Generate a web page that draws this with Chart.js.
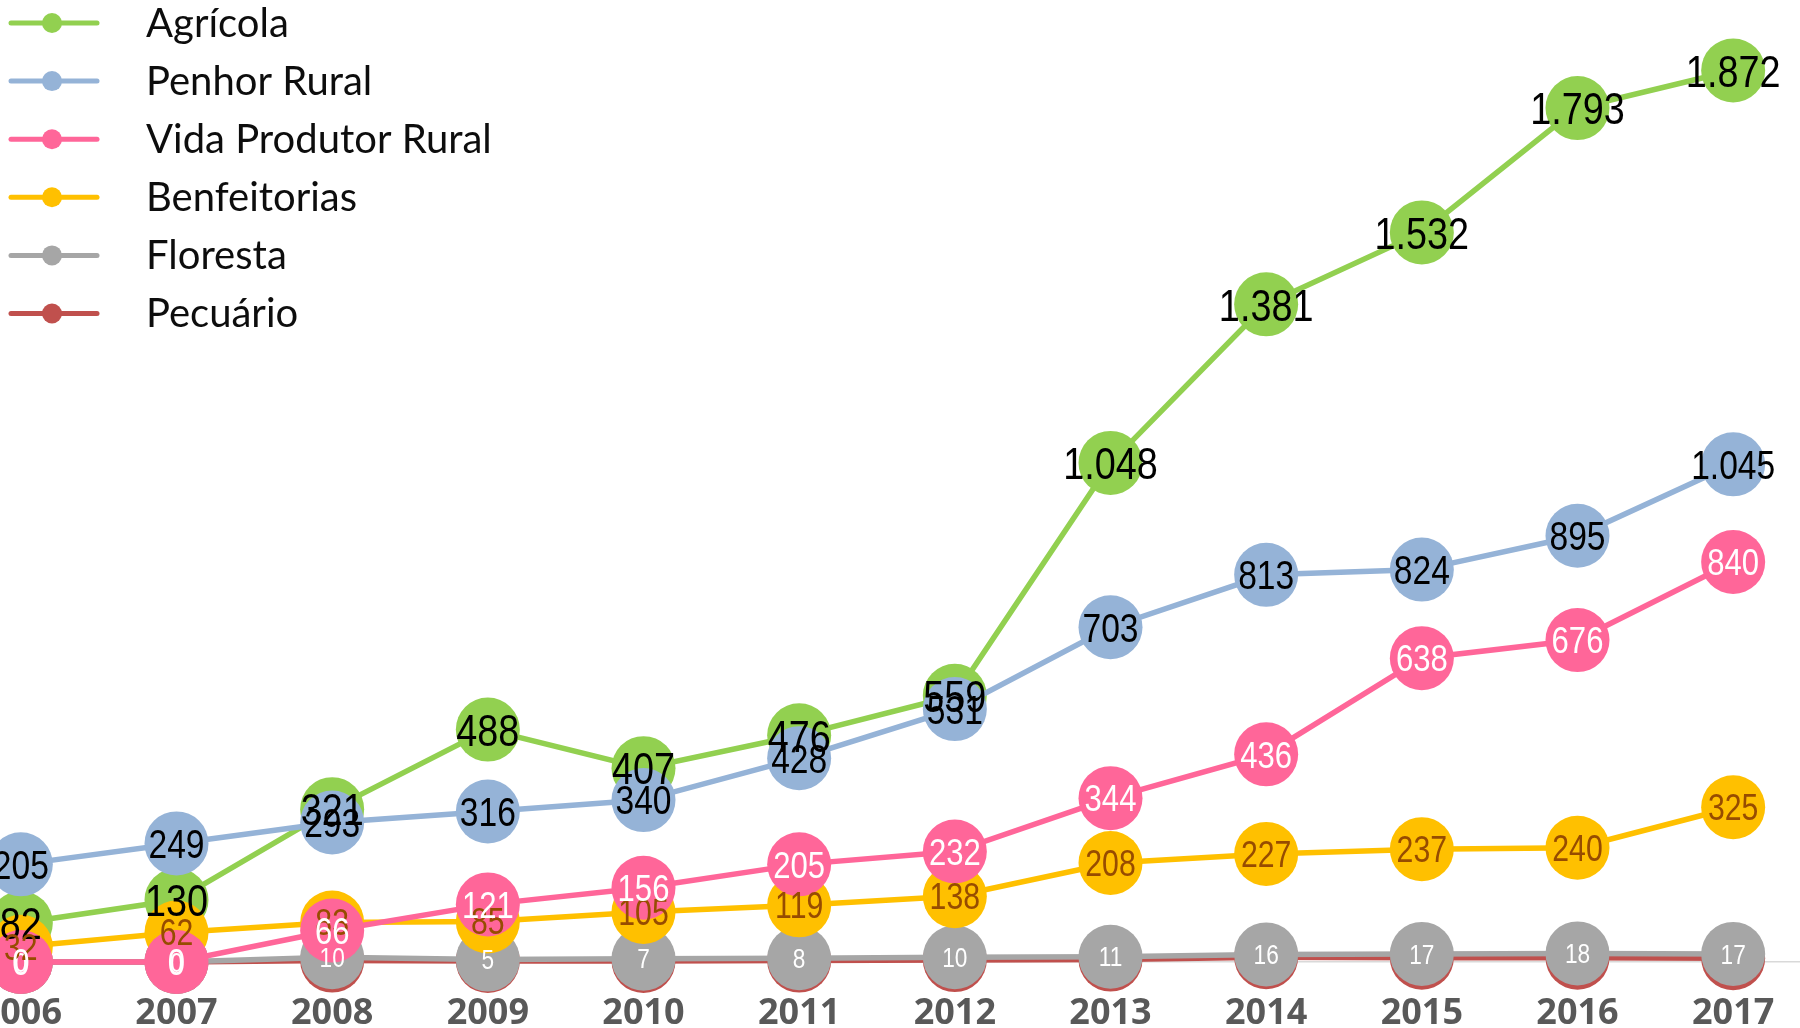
<!DOCTYPE html>
<html>
<head>
<meta charset="utf-8">
<script src="https://cdn.jsdelivr.net/npm/chart.js@4.4.1/dist/chart.umd.min.js"></script>
<style>
  html, body { margin: 0; padding: 0; background: #fff; overflow: hidden; }
  /* canvas is a bit wider than the window so the first/last year sit half a slot in */
  #wrap { position: absolute; left: -57px; top: 0; width: 1868px; height: 1028px; }
</style>
</head>
<body>
<div id="wrap"><canvas id="seguro-line-chart"></canvas></div>
<script>
var years = ['2006', '2007', '2008', '2009', '2010', '2011', '2012', '2013', '2014', '2015', '2016', '2017'];

var agricola     = [82, 130, 321, 488, 407, 476, 559, 1048, 1381, 1532, 1793, 1872];
var penhorRural  = [205, 249, 293, 316, 340, 428, 531, 703, 813, 824, 895, 1045];
var vidaProdutor = [0, 0, 66, 121, 156, 205, 232, 344, 436, 638, 676, 840];
var benfeitorias = [32, 62, 83, 85, 105, 119, 138, 208, 227, 237, 240, 325];
var floresta     = [0, 0, 10, 5, 7, 8, 10, 11, 16, 17, 18, 17];
var pecuario     = [0, 0, 3, 2, 2, 3, 4, 5, 10, 9, 9, 8];

var LABEL_FONT = '"Liberation Sans", Arial, sans-serif';

function fmt(v) {
  return String(v).replace(/\B(?=(\d{3})+(?!\d))/g, '.');
}

function series(label, data, color, order, labelColor, labelSize) {
  return {
    label: label,
    data: data,
    borderColor: color,
    backgroundColor: color,
    pointBackgroundColor: color,
    pointBorderColor: color,
    pointBorderWidth: 0,
    pointRadius: 32,
    pointHoverRadius: 32,
    borderWidth: 5.5,
    fill: false,
    tension: 0,
    clip: false,
    order: order,
    labelColor: labelColor,
    labelSize: labelSize
  };
}

// values written in the middle of every marker (squeezed like a narrow font)
const pointLabels = {
  id: 'pointLabels',
  afterDatasetsDraw: (chart) => {
    const {ctx} = chart;
    const metas = chart.getSortedVisibleDatasetMetas().slice().reverse();
    metas.forEach(function(meta) {
      const ds = chart.data.datasets[meta.index];
      if (!ds.labelSize) return;
      meta.data.forEach(function(pt, j) {
        ctx.save();
        ctx.fillStyle = ds.labelColor;
        ctx.font = ds.labelSize + 'px ' + LABEL_FONT;
        ctx.textAlign = 'center';
        ctx.textBaseline = 'alphabetic';
        ctx.translate(pt.x, pt.y + ds.labelSize * 0.36);
        ctx.scale(0.84, 1);
        ctx.fillText(fmt(ds.data[j]), 0, 0);
        ctx.restore();
      });
    });
  }
};

// legend in the top-left corner, line with a dot like the original
const cornerLegend = {
  id: 'cornerLegend',
  afterDraw: (chart, args, options) => {
    const {ctx} = chart;
    chart.data.datasets.forEach(function(ds, i) {
      const y = options.top + i * options.gap;
      const x = options.left;
      ctx.save();
      ctx.strokeStyle = ds.borderColor;
      ctx.fillStyle = ds.borderColor;
      ctx.lineWidth = 5;
      ctx.lineCap = 'round';
      ctx.beginPath();
      ctx.moveTo(x, y);
      ctx.lineTo(x + 86, y);
      ctx.stroke();
      ctx.beginPath();
      ctx.arc(x + 41, y, 10, 0, Math.PI * 2);
      ctx.fill();
      ctx.fillStyle = '#0d0d0d';
      ctx.font = '40px Lato, sans-serif';
      ctx.textAlign = 'left';
      ctx.textBaseline = 'middle';
      ctx.fillText(ds.label, x + 135, y + 1);
      ctx.restore();
    });
  }
};

var config = {
  type: 'line',
  data: {
    labels: years,
    datasets: [
      series('Agrícola', agricola, '#92D050', 3, '#000000', 45),
      series('Penhor Rural', penhorRural, '#95B3D7', 2, '#000000', 40),
      series('Vida Produtor Rural', vidaProdutor, '#FF6699', 0, '#FFFFFF', 37),
      series('Benfeitorias', benfeitorias, '#FFC000', 1, '#974C00', 36),
      series('Floresta', floresta, '#A6A6A6', 4, '#FFFFFF', 27),
      series('Pecuário', pecuario, '#C0504D', 5, null, 0)
    ]
  },
  options: {
    responsive: true,
    maintainAspectRatio: false,
    animation: false,
    layout: { padding: 0, autoPadding: false },
    plugins: {
      legend: { display: false },
      tooltip: { enabled: false },
      cornerLegend: { left: 68, top: 23, gap: 58.1 }
    },
    scales: {
      x: {
        offset: true,
        grid: { display: false, drawTicks: false },
        border: { display: true, color: '#D9D9D9', width: 1.5 },
        ticks: {
          color: '#595959',
          padding: 30,
          maxRotation: 0,
          autoSkip: false,
          font: { family: '"Open Sans", sans-serif', size: 36, weight: 'bold' }
        },
        afterFit: function(scale) {
          scale.paddingLeft = 0;
          scale.paddingRight = 0;
          scale.height = 66;
        }
      },
      y: {
        display: false,
        min: 0,
        max: 2020
      }
    }
  },
  plugins: [pointLabels, cornerLegend]
};

window.onload = function() {
  var ctx = document.getElementById('seguro-line-chart').getContext('2d');
  window.seguroChart = new Chart(ctx, config);
};
</script>
</body>
</html>
